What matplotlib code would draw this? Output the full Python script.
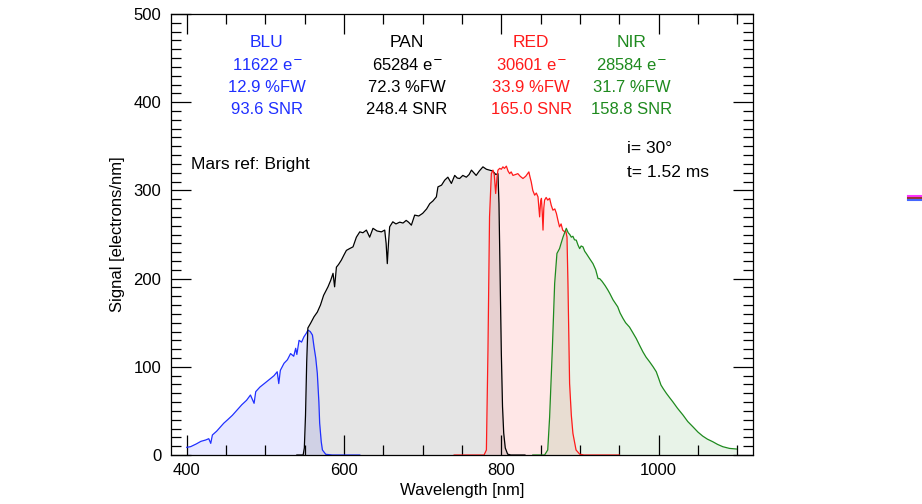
import matplotlib
matplotlib.use("Agg")
import matplotlib.pyplot as plt
from matplotlib.lines import Line2D
from matplotlib.ticker import MultipleLocator

plt.rcParams['font.family'] = ['Liberation Sans', 'DejaVu Sans']
plt.rcParams['font.size'] = 12

# spectra, (wavelength nm, signal electrons/nm)
blu = [(400, 8.7), (405, 9.5), (412, 12.5), (418, 15.5), (424, 17), (428, 18.5),
       (430.5, 13.2), (432.6, 22.7), (438, 27), (443, 32), (447, 36), (452, 40),
       (458, 45), (464, 51), (470, 57), (476, 62), (481, 68), (485.6, 58.6),
       (487.7, 71.8), (493, 77), (500, 82), (506.8, 86.9), (511, 90), (515, 94.4),
       (517, 81), (519, 96), (523.7, 104), (528, 108), (532, 115), (536, 112),
       (538.5, 121), (540, 114), (542.8, 130), (546, 128), (549, 134), (552, 138),
       (554, 141.6), (557, 140), (559.8, 136), (561.8, 122.7), (564, 110),
       (566, 92.6), (568, 60), (569, 36), (571, 15), (572.5, 5.7), (576.7, 0.8),
       (585, 0), (620, 0)]

pan = [(540, 0), (548, 0), (549.5, 8), (551, 45), (552.5, 105), (554, 144),
       (557.6, 149.6), (561.8, 156.7), (566, 162), (570, 170), (574, 181),
       (579.6, 190.7), (583, 198), (586, 206), (588, 190.7), (590.3, 213),
       (593, 216), (596.6, 221), (600, 227), (603, 232), (607, 234), (611.4, 236),
       (615.7, 247), (620, 253), (624, 252), (628.4, 255), (632.6, 247),
       (636.8, 257), (642, 254), (647.5, 253), (651.7, 255), (653.5, 240),
       (655, 217), (656.5, 240), (658, 258.7), (662, 264.4), (666, 262),
       (670.8, 264), (675, 263), (679, 266), (682, 264), (685.6, 260.6),
       (689.8, 272), (695, 271), (700, 274), (705, 279), (709, 285), (713, 288),
       (717.4, 292.7), (719.4, 304), (724, 306), (728, 311.6), (732, 315),
       (736.5, 307.9), (740.7, 317), (744, 314), (747, 313.5), (751, 317),
       (755.5, 315), (759, 318), (762, 323), (765, 320), (768, 317), (772, 322),
       (776.6, 326.7), (781, 324), (785, 323), (789, 322), (793, 318),
       (795.7, 319), (797, 285), (798.5, 200), (800, 115), (801.5, 55),
       (803, 25), (805, 8), (808, 1), (812, 0), (830, 0)]

red = [(740, 0), (778, 0), (781, 5.7), (783, 119), (785, 270), (787.3, 319),
       (789.3, 323), (791, 318), (792.8, 296.5), (794.5, 315), (795.7, 323),
       (797.9, 325), (800, 324), (802, 326.7), (804, 325), (806.4, 327.5),
       (808.5, 322), (810.6, 319), (812.5, 321), (814.8, 317), (818, 318),
       (821, 319), (824, 316), (827.5, 313.5), (831, 316), (835, 321),
       (836.5, 315), (838, 309.7), (840, 300), (842.4, 294.6), (844.5, 297),
       (846.6, 292.7), (848.7, 270), (850, 288), (851, 291), (852, 275),
       (853, 255), (854, 280), (855, 289), (857, 292), (859, 289), (861.4, 291),
       (863.5, 283), (865.6, 277.6), (868, 279), (870, 274), (872, 266),
       (874, 258.7), (876, 262), (878, 255), (880.5, 253), (882, 254),
       (883.5, 247), (884.7, 194.5), (886.8, 81), (889, 45), (891, 24.6),
       (895, 5.7), (899.6, 1), (905, 0), (950, 0)]

nir = [(840, 0), (855, 0), (859, 5.7), (861.4, 43), (864.8, 119), (867.8, 194.5),
       (870.7, 228.5), (874, 234), (876, 240), (878.4, 247), (880.5, 252),
       (882.6, 257), (885, 252), (887, 250), (889, 247), (891, 248), (893, 244),
       (895.3, 243.6), (897.5, 238), (899.6, 234), (901.5, 237), (903.8, 236),
       (906, 231), (908, 228.5), (912, 223), (916.5, 217), (920, 210), (923, 200),
       (925, 200), (928, 197), (932, 192), (935.5, 187), (938, 183), (942, 176),
       (945, 172), (948, 168), (951, 161), (954.6, 155), (958, 150), (963, 145),
       (967, 139), (971.6, 132), (976, 124), (980, 117), (984, 111),
       (988.5, 105.7), (993, 100), (997, 94.4), (1000, 87), (1003, 79.3),
       (1006, 75), (1009.8, 70), (1014, 65), (1018, 60.4), (1024, 53),
       (1031, 45.3), (1037, 38), (1043.6, 32), (1050, 26), (1056, 21.5),
       (1062, 18), (1069, 15), (1075, 12), (1081.7, 9.4), (1090, 7.5),
       (1099, 6.8)]

bands = ['BLU', 'PAN', 'RED', 'NIR']
electrons = ['11622', '65284', '30601', '28584']
full_well = ['12.9', '72.3', '33.9', '31.7']
snr = ['93.6', '248.4', '165.0', '158.8']
band_colors = ['#1f2fff', 'black', '#ff1a1a', '#1e8a1e']
text_x = [502, 680, 838, 966]

fig = plt.figure(figsize=(9.22, 5.04), dpi=100)
ax = fig.add_axes([0.1855, 0.0972, 0.6312, 0.875])

for spec, col in zip([blu, pan, red, nir], band_colors):
    wl = [p[0] for p in spec]
    sig = [p[1] for p in spec]
    ax.fill_between(wl, 0, sig, color=col, alpha=0.1, lw=0)
    ax.plot(wl, sig, color=col, lw=0.9)

ax.set_xlim(380, 1120)
ax.set_ylim(0, 500)
ax.xaxis.set_major_locator(MultipleLocator(200))
ax.xaxis.set_minor_locator(MultipleLocator(50))
ax.yaxis.set_major_locator(MultipleLocator(100))
ax.yaxis.set_minor_locator(MultipleLocator(10))
ax.tick_params(which='both', direction='in', top=True, right=True, width=0.9)
ax.tick_params(which='major', length=14.5)
ax.tick_params(which='minor', length=7.5)
ax.tick_params(axis='x', pad=6)
ax.tick_params(axis='y', pad=7)
for s in ax.spines.values():
    s.set_linewidth(0.9)

ax.set_xlabel('Wavelength [nm]', labelpad=3)
ax.set_ylabel('Signal [electrons/nm]', labelpad=6)

rows = [468, 442, 417, 392]
for i in range(4):
    c = band_colors[i]
    ax.text(text_x[i], rows[0], bands[i], color=c, ha='center', va='center', fontsize=12.5)
    ax.text(text_x[i], rows[1], electrons[i] + ' e$^{-}$', color=c, ha='center', va='center')
    ax.text(text_x[i], rows[2], full_well[i] + ' %FW', color=c, ha='center', va='center')
    ax.text(text_x[i], rows[3], snr[i] + ' SNR', color=c, ha='center', va='center')

ax.text(406, 329, 'Mars ref: Bright', ha='left', va='center', fontsize=12.5)
ax.text(960, 348, 'i= 30°', ha='left', va='center', fontsize=12.5)
ax.text(960, 320, 't= 1.52 ms', ha='left', va='center', fontsize=12.5)

# clipped bit of a neighbouring figure at the right edge
for yy, cc in [(196, '#ff33ff'), (198, '#993333'), (200, '#4466ff')]:
    fig.add_artist(Line2D([908 / 922, 1], [1 - yy / 504] * 2, color=cc, lw=1.5,
                          transform=fig.transFigure))

fig.savefig('out.png', dpi=100)
